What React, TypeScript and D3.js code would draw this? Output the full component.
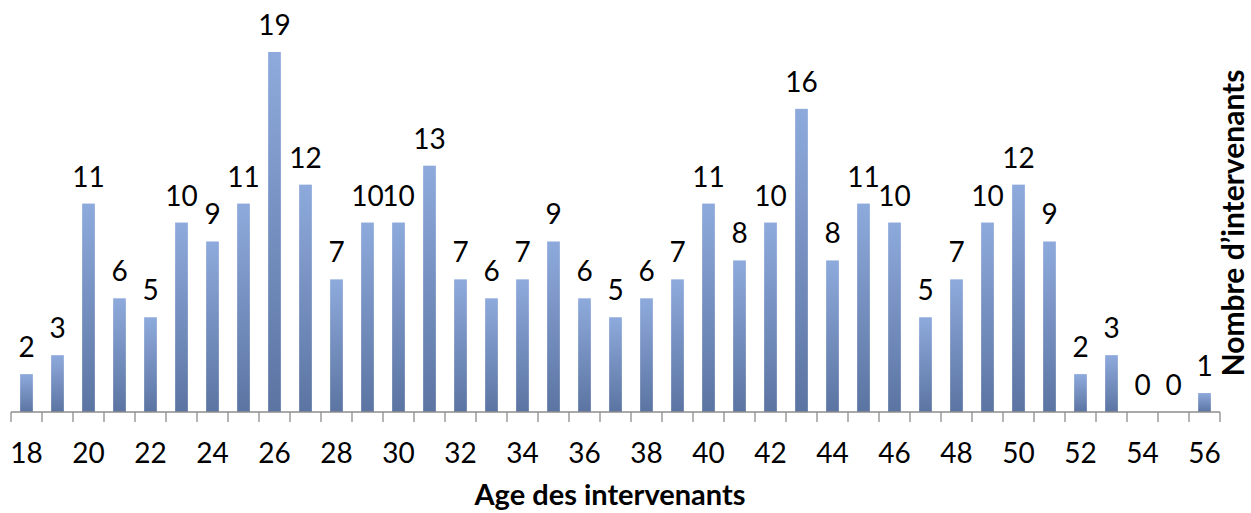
import { useEffect, useRef } from "react";
import * as d3 from "d3";

const ages = d3.range(18, 57).map(String);
const counts = [
  2, 3, 11, 6, 5, 10, 9, 11, 19, 12, 7, 10, 10, 13, 7, 6, 7, 9, 6, 5,
  6, 7, 11, 8, 10, 16, 8, 11, 10, 5, 7, 10, 12, 9, 2, 3, 0, 0, 1,
];
const tickAges = ages.filter((_, i) => i % 2 === 0);
const xTitle = "Age des intervenants";
const yTitle = "Nombre d\u2019intervenants";

const App = () => {
  const ref = useRef<SVGSVGElement | null>(null);

  useEffect(() => {
    if (!ref.current) return;
    const svg = d3.select(ref.current);
    svg.selectAll("*").remove();

    const width = 1251;
    const height = 513;
    const font = "Lato, 'Open Sans', sans-serif";

    const x = d3.scaleBand().domain(ages).range([11, 1220]).paddingInner(0).paddingOuter(0);
    const y = d3.scaleLinear().domain([0, 19]).range([412, 52]);

    const defs = svg.append("defs");
    const grad = defs
      .append("linearGradient")
      .attr("id", "barGrad")
      .attr("x1", 0)
      .attr("y1", 0)
      .attr("x2", 0)
      .attr("y2", 1);
    grad.append("stop").attr("offset", "0%").attr("stop-color", "#8eaadc");
    grad.append("stop").attr("offset", "100%").attr("stop-color", "#5b74a2");

    const data = ages.map((a, i) => ({ age: a, value: counts[i] }));
    const bw = x.bandwidth() * 0.41;

    svg
      .append("g")
      .selectAll("rect")
      .data(data.filter(d => d.value > 0))
      .join("rect")
      .attr("x", d => x(d.age)! + x.bandwidth() / 2 - bw / 2)
      .attr("y", d => y(d.value))
      .attr("width", bw)
      .attr("height", d => y(0) - y(d.value))
      .attr("fill", "url(#barGrad)");

    svg
      .append("g")
      .selectAll("text")
      .data(data)
      .join("text")
      .attr("x", d => x(d.age)! + x.bandwidth() / 2)
      .attr("y", d => y(d.value) - 17)
      .attr("text-anchor", "middle")
      .attr("font-family", font)
      .attr("font-size", 28)
      .attr("fill", "#000")
      .text(d => d.value);

    // axis
    const axis = svg.append("g").attr("transform", `translate(0,${y(0)})`);
    axis
      .append("line")
      .attr("x1", 11)
      .attr("x2", 1220)
      .attr("stroke", "#8c8c8c")
      .attr("stroke-width", 1.3);
    axis
      .selectAll("line.tick")
      .data(d3.range(ages.length + 1))
      .join("line")
      .attr("class", "tick")
      .attr("x1", i => 11 + i * x.step())
      .attr("x2", i => 11 + i * x.step())
      .attr("y1", 0)
      .attr("y2", 10)
      .attr("stroke", "#8c8c8c")
      .attr("stroke-width", 1.3);
    axis
      .selectAll("text")
      .data(tickAges)
      .join("text")
      .attr("x", d => x(d)! + x.bandwidth() / 2)
      .attr("y", 51)
      .attr("text-anchor", "middle")
      .attr("font-family", font)
      .attr("font-size", 28)
      .attr("fill", "#000")
      .text(d => d);

    svg
      .append("text")
      .attr("x", 610)
      .attr("y", 505)
      .attr("text-anchor", "middle")
      .attr("font-family", font)
      .attr("font-weight", "bold")
      .attr("font-size", 29)
      .text(xTitle);

    svg
      .append("text")
      .attr("transform", `translate(1244,223) rotate(-90)`)
      .attr("text-anchor", "middle")
      .attr("font-family", font)
      .attr("font-weight", "bold")
      .attr("font-size", 30)
      .text(yTitle);

    svg.attr("width", width).attr("height", height);
  }, []);

  return (
    <svg
      ref={ref}
      width={1251}
      height={513}
      style={{ position: "absolute", left: 0, top: 0, background: "#fff" }}
    />
  );
};

export default App;
